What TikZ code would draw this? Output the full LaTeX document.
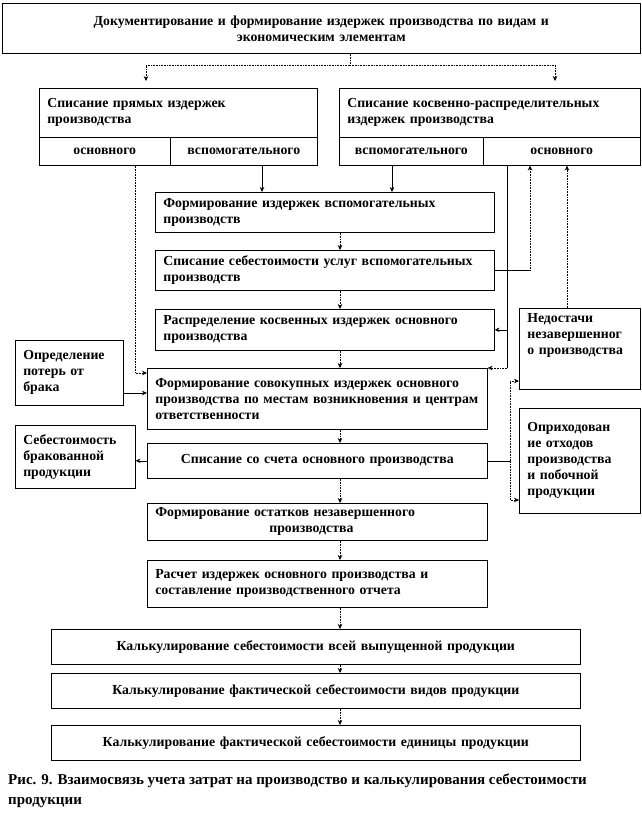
\documentclass[tikz,border=0pt]{standalone}
\usepackage{fontspec}
\setmainfont{Liberation Serif}
\usetikzlibrary{arrows.meta}

\newcommand{\boxfont}{\bfseries\fontsize{13.8}{16}\selectfont}
\newcommand{\capfont}{\bfseries\fontsize{15}{20}\selectfont}

\begin{document}
\begin{tikzpicture}[
    x=1pt, y=-1pt,
    box/.style={draw, line width=0.6pt, anchor=north west, inner xsep=8pt, inner ysep=2pt, font=\boxfont},
    lbox/.style={box, align=left},
    cbox/.style={box, align=center},
    arrow/.style={-{Stealth[length=5pt,width=4.5pt]}},
    solidline/.style={line width=0.6pt},
    dotline/.style={line width=0.6pt, densely dotted}
    ]
    \useasboundingbox (0,0) rectangle (642,824);

    % top level
    \node[cbox, text width=622pt, minimum height=50pt] (top) at (2,3) {Документирование и формирование издержек производства по видам и\\экономическим элементам};

    % direct and indirect costs
    \node[lbox, text width=262pt, minimum height=49pt] (direct) at (39,88) {Списание прямых издержек\\производства};
    \node[cbox, text width=115pt, minimum height=28pt] (dMain) at (39,137) {основного};
    \node[cbox, text width=131pt, minimum height=28pt] (dAux) at (170,137) {вспомогательного};

    \node[lbox, text width=285pt, minimum height=49pt] (indirect) at (339,88) {Списание косвенно-распределительных\\издержек производства};
    \node[cbox, text width=128pt, minimum height=28pt] (iAux) at (339,137) {вспомогательного};
    \node[cbox, text width=141pt, minimum height=28pt] (iMain) at (483,137) {основного};

    % main column
    \node[lbox, text width=323pt, minimum height=40pt] (fv) at (155,192) {Формирование издержек вспомогательных\\производств};
    \node[lbox, text width=323pt, minimum height=40pt] (ss) at (155,250) {Списание себестоимости услуг вспомогательных\\производств};
    \node[lbox, text width=323pt, minimum height=41pt] (rk) at (155,309) {Распределение косвенных издержек основного\\производства};
    \node[lbox, text width=324pt, minimum height=61pt] (fs) at (147,368) {Формирование совокупных издержек основного\\производства по местам возникновения и центрам\\ответственности};
    \node[cbox, text width=324pt, minimum height=35pt] (sch) at (147,443) {Списание со счета основного производства};
    \node[lbox, text width=324pt, minimum height=37pt] (ost) at (147,503) {Формирование остатков незавершенного\\\hspace*{114pt}производства};
    \node[lbox, text width=324pt, minimum height=47pt] (calc) at (147,560) {Расчет издержек основного производства и\\составление производственного отчета};
    \node[cbox, text width=513pt, minimum height=35pt] (kAll) at (51,629) {Калькулирование себестоимости всей выпущенной продукции};
    \node[cbox, text width=513pt, minimum height=35pt] (kKind) at (51,673) {Калькулирование фактической себестоимости видов продукции};
    \node[cbox, text width=513pt, minimum height=35pt] (kUnit) at (51,725) {Калькулирование фактической себестоимости единицы продукции};

    % side boxes
    \node[lbox, text width=92pt, minimum height=65pt] (loss) at (15,340) {Определение\\потерь от\\брака};
    \node[lbox, text width=104pt, minimum height=63pt] (defect) at (15,425) {Себестоимость\\бракованной\\продукции};
    \node[lbox, text width=105pt, inner ysep=5pt, text depth=62pt] (shortage) at (519,308) {Недостачи\\незавершенног\\о производства};
    \node[lbox, text width=105pt, minimum height=105pt] (waste) at (519,408) {Оприходован\\ие отходов\\производства\\и побочной\\продукции};

    \node[anchor=north west, align=left, inner sep=0pt, font=\capfont] (caption) at (8,774) {Рис. 9. Взаимосвязь учета затрат на производство и калькулирования себестоимости\\продукции};

    % helper coordinates for connector columns
    \coordinate (split) at (350,65);
    \coordinate (xDL) at (146,0);
    \coordinate (xDR) at (555,0);
    \coordinate (xC) at (340,0);
    \coordinate (xA) at (262,0);
    \coordinate (xB) at (392,0);
    \coordinate (xM) at (135,0);
    \coordinate (xR) at (507,0);
    \coordinate (xU) at (530,0);
    \coordinate (xN) at (567,0);
    \coordinate (xS) at (510,0);
    \coordinate (yMain) at (0,373);
    \coordinate (yLoss) at (0,393);
    \coordinate (yShort) at (0,381);
    \coordinate (yWaste) at (0,500);

    % top split
    \draw[dotline] (top.south -| split) -- (split);
    \draw[dotline, arrow, shorten >=7pt] (split) -- (split -| xDL) -- (direct.north -| xDL);
    \draw[dotline, arrow, shorten >=7pt] (split) -- (split -| xDR) -- (indirect.north -| xDR);

    \draw[solidline, arrow] (dAux.south -| xA) -- (fv.north -| xA);
    \draw[solidline, arrow] (iAux.south -| xB) -- (fv.north -| xB);

    % main column
    \draw[dotline, arrow] (fv.south -| xC) -- (ss.north -| xC);
    \draw[dotline, arrow] (ss.south -| xC) -- (rk.north -| xC);
    \draw[dotline, arrow] (rk.south -| xC) -- (fs.north -| xC);
    \draw[dotline, arrow] (fs.south -| xC) -- (sch.north -| xC);
    \draw[dotline, arrow] (sch.south -| xC) -- (ost.north -| xC);
    \draw[dotline, arrow] (ost.south -| xC) -- (calc.north -| xC);
    \draw[dotline, arrow] (calc.south -| xC) -- (kAll.north -| xC);
    \draw[dotline, arrow] (kAll.south -| xC) -- (kKind.north -| xC);
    \draw[dotline, arrow] (kKind.south -| xC) -- (kUnit.north -| xC);

    % left side
    \draw[dotline, arrow] (dMain.south -| xM) |- (fs.west |- yMain);
    \draw[solidline, arrow] (loss.east |- yLoss) -- (fs.west |- yLoss);
    \draw[solidline, arrow] (sch.west) -- (defect.east |- sch.west);

    % right side
    \draw[solidline] (iMain.south -| xR) -- (fs.north east -| xR);
    \draw[dotline, arrow] (fs.north east -| xR) -- (fs.north east);
    \draw[solidline, arrow] (rk.east -| xR) -- (rk.east);
    \draw[solidline] (ss.east) -- (ss.east -| xU);
    \draw[dotline, arrow] (ss.east -| xU) -- (iMain.south -| xU);
    \draw[dotline, arrow] (shortage.north -| xN) -- (iMain.south -| xN);
    \draw[solidline] (sch.east) -- (sch.east -| xS);
    \draw[dotline, arrow] (sch.east -| xS) |- (shortage.west |- yShort);
    \draw[dotline, arrow] (sch.east -| xS) |- (waste.west |- yWaste);
\end{tikzpicture}
\end{document}
